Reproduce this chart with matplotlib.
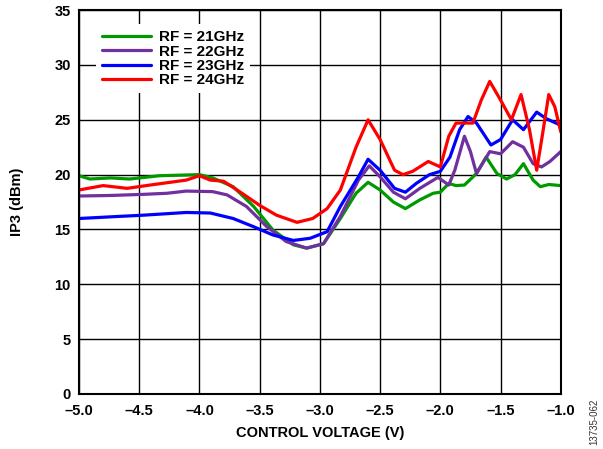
import matplotlib
matplotlib.use("Agg")
import matplotlib.pyplot as plt

plt.rcParams['font.family'] = ['Liberation Sans', 'DejaVu Sans']

# control voltage (V) and IP3 (dBm)
v21 = [-5.0, -4.91, -4.74, -4.58, -4.33, -4.0, -3.89, -3.72, -3.55, -3.39, -3.22, -3.11,
       -2.97, -2.83, -2.70, -2.60, -2.50, -2.39, -2.29, -2.17, -2.06, -2.0, -1.93, -1.87,
       -1.80, -1.70, -1.62, -1.53, -1.45, -1.38, -1.31, -1.23, -1.17, -1.10, -1.0]
ip21 = [19.9, 19.6, 19.7, 19.6, 19.9, 20.0, 19.7, 18.9, 17.1, 14.95, 13.6, 13.3,
        13.7, 16.0, 18.3, 19.3, 18.6, 17.5, 16.9, 17.7, 18.3, 18.4, 19.2, 19.0,
        19.05, 20.1, 21.6, 20.1, 19.6, 20.0, 21.0, 19.5, 18.9, 19.1, 19.0]

v22 = [-5.0, -4.74, -4.47, -4.27, -4.11, -3.89, -3.77, -3.61, -3.44, -3.28, -3.11, -2.97,
       -2.83, -2.68, -2.59, -2.50, -2.39, -2.29, -2.17, -2.02, -1.93, -1.88, -1.80, -1.75,
       -1.70, -1.59, -1.50, -1.40, -1.31, -1.23, -1.16, -1.09, -1.0]
ip22 = [18.05, 18.1, 18.2, 18.3, 18.5, 18.45, 18.15, 17.1, 15.25, 13.9, 13.3, 13.7,
        16.2, 19.5, 20.8, 19.8, 18.4, 17.8, 18.75, 19.75, 19.05, 20.4, 23.5, 22.1,
        20.1, 22.1, 21.9, 23.0, 22.5, 21.0, 20.7, 21.2, 22.1]

v23 = [-5.0, -4.74, -4.47, -4.11, -3.91, -3.72, -3.55, -3.39, -3.22, -3.08, -2.94, -2.83,
       -2.68, -2.60, -2.50, -2.38, -2.29, -2.20, -2.09, -2.0, -1.92, -1.84, -1.77, -1.70,
       -1.58, -1.50, -1.40, -1.31, -1.20, -1.12, -1.0]
ip23 = [16.0, 16.15, 16.3, 16.55, 16.5, 16.0, 15.25, 14.5, 14.0, 14.2, 14.8, 17.1,
        19.8, 21.4, 20.4, 18.75, 18.4, 19.2, 20.0, 20.3, 21.6, 24.1, 25.3, 24.7,
        22.7, 23.2, 25.0, 24.1, 25.7, 25.1, 24.5]

v24 = [-5.0, -4.80, -4.60, -4.41, -4.11, -4.0, -3.91, -3.80, -3.66, -3.50, -3.36, -3.19,
       -3.06, -2.94, -2.83, -2.70, -2.60, -2.50, -2.38, -2.31, -2.23, -2.10, -2.0, -1.93,
       -1.87, -1.73, -1.66, -1.59, -1.50, -1.41, -1.33, -1.26, -1.20, -1.15, -1.10, -1.05, -1.0]
ip24 = [18.6, 19.0, 18.75, 19.05, 19.5, 19.9, 19.5, 19.4, 18.4, 17.2, 16.3, 15.65,
        16.0, 16.9, 18.6, 22.5, 25.0, 23.2, 20.4, 20.0, 20.3, 21.2, 20.7, 23.5,
        24.7, 24.7, 26.8, 28.5, 26.8, 25.0, 27.3, 24.1, 20.4, 23.8, 27.3, 26.2, 23.9]

series = [
    ("RF = 21GHz", v21, ip21, "#009900"),
    ("RF = 22GHz", v22, ip22, "#7030A0"),
    ("RF = 23GHz", v23, ip23, "#0000FF"),
    ("RF = 24GHz", v24, ip24, "#FF0000"),
]

xticks = [-5.0, -4.5, -4.0, -3.5, -3.0, -2.5, -2.0, -1.5, -1.0]
xlabels = ["–5.0", "–4.5", "–4.0", "–3.5", "–3.0", "–2.5", "–2.0", "–1.5", "–1.0"]
yticks = [0, 5, 10, 15, 20, 25, 30, 35]

fig = plt.figure(figsize=(6.03, 4.49), dpi=100)
ax = fig.add_axes([0.131, 0.1225, 0.799, 0.855])

for label, v, ip, c in series:
    ax.plot(v, ip, color=c, lw=2.3, label=label, solid_joinstyle='round', solid_capstyle='round')

ax.set_xlim(-5, -1)
ax.set_ylim(0, 35)
ax.set_xticks(xticks)
ax.set_xticklabels(xlabels)
ax.set_yticks(yticks)
ax.grid(True, color='black', lw=1.0)
ax.set_axisbelow(True)
ax.tick_params(length=0, labelsize=10.5)
ax.tick_params(axis='x', pad=7)
ax.tick_params(axis='y', pad=6)
for t in ax.get_xticklabels() + ax.get_yticklabels():
    t.set_fontweight('bold')
for s in ax.spines.values():
    s.set_linewidth(1.5)

ax.set_xlabel("CONTROL VOLTAGE (V)", fontsize=10.5, fontweight='bold', labelpad=6)
ax.set_ylabel("IP3 (dBm)", fontsize=10.5, fontweight='bold', labelpad=22)

leg = ax.legend(loc='upper left', bbox_to_anchor=(0.02, 0.983), frameon=True, fancybox=False,
                edgecolor='none', framealpha=1.0, handlelength=3.2, handletextpad=0.5,
                labelspacing=0.02, borderpad=0.4,
                prop={'weight': 'bold', 'size': 11})

fig.text(0.985, 0.06, "13735-062", rotation=90, fontsize=7, color='#333333',
         ha='center', va='center')

fig.savefig("out.png", dpi=100)
